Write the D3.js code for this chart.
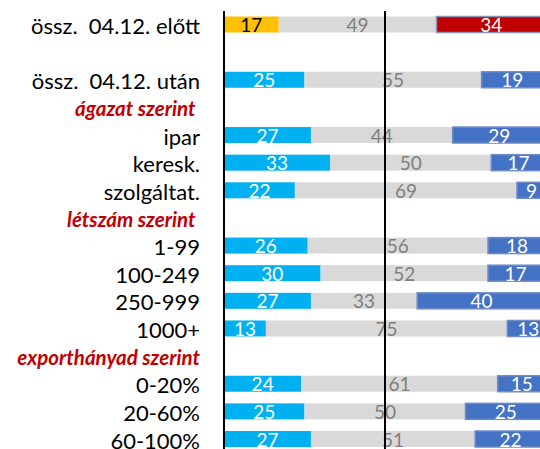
<!DOCTYPE html>
<html>
<head>
<meta charset="utf-8">
<script src="https://cdn.jsdelivr.net/npm/d3@7"></script>
<style>
  body { margin: 0; background: #fff; }
  text { font-family: Lato, "Noto Sans", sans-serif; white-space: pre; }
</style>
</head>
<body>
<script>
// sorok (üres sor is kell a két összesítő között)
var categories = ["össz.  04.12. előtt", "", "össz.  04.12. után", "ágazat szerint ", "ipar", "keresk.", "szolgáltat.",
  "létszám szerint ", "1-99", "100-249", "250-999", "1000+", "exporthányad szerint", "0-20%", "20-60%", "60-100%"]
var headers = ["ágazat szerint ", "létszám szerint ", "exporthányad szerint"]

// három szelet soronként (null = nincs sáv)
var first  = [17, null, 25, null, 27, 33, 22, null, 26, 30, 27, 13, null, 24, 25, 27]
var middle = [49, null, 55, null, 44, 50, 69, null, 56, 52, 33, 75, null, 61, 50, 51]
var last   = [34, null, 19, null, 29, 17,  9, null, 18, 17, 40, 13, null, 15, 25, 22]

var W = 540, H = 449
var svg = d3.select("body").append("svg")
    .attr("width", W)
    .attr("height", H)

var x = d3.scaleLinear().domain([0, 100]).range([224, 546])
var y = d3.scalePoint().domain(d3.range(categories.length)).range([24.5, 439])
var barH = 16

// egymásra rakott szeletek
var rows = []
categories.forEach(function(c, i) {
  if (first[i] == null) return
  var vals = [first[i], middle[i], last[i]]
  var acc = 0
  vals.forEach(function(v, k) {
    rows.push({ row: i, k: k, x0: acc, x1: acc + v, v: v })
    acc += v
  })
})

function fillOf(d) {
  if (d.k == 1) return "#d9d9d9"
  if (d.row == 0) return d.k == 0 ? "#ffc000" : "#c00000"
  return d.k == 0 ? "#00b0f0" : "#4472c4"
}

svg.append("g")
  .selectAll("rect")
  .data(rows)
  .enter()
  .append("rect")
    .attr("x", d => x(d.x0))
    .attr("y", d => y(d.row) - barH / 2)
    .attr("width", d => x(d.x1) - x(d.x0))
    .attr("height", barH)
    .attr("fill", fillOf)
    .attr("stroke", d => d.k == 2 ? (d.row == 0 ? "#8a94b4" : "#6f8cc6") : "none")
    .attr("stroke-width", d => d.k == 2 ? 1.5 : 0)

// értékfeliratok
svg.append("g")
  .selectAll("text")
  .data(rows)
  .enter()
  .append("text")
    .attr("x", d => x((d.x0 + d.x1) / 2))
    .attr("y", d => y(d.row))
    .attr("text-anchor", "middle")
    .attr("dominant-baseline", "central")
    .attr("font-size", 19)
    .attr("fill", d => d.k == 1 ? "#7f7f7f" : (d.row == 0 && d.k == 0 ? "#000" : "#fff"))
    .text(d => d.v)

// függőleges tengely és 50%-os vonal
svg.append("line")
  .attr("x1", x(0)).attr("x2", x(0))
  .attr("y1", 11).attr("y2", H)
  .attr("stroke", "#000").attr("stroke-width", 2)

svg.append("line")
  .attr("x1", x(50)).attr("x2", x(50))
  .attr("y1", 11).attr("y2", H)
  .attr("stroke", "#000").attr("stroke-width", 2)

// sorfeliratok
svg.append("g")
  .selectAll("text")
  .data(categories)
  .enter()
  .append("text")
    .attr("x", 200)
    .attr("y", (d, i) => y(i) + 1)
    .attr("text-anchor", "end")
    .attr("dominant-baseline", "central")
    .attr("font-size", d => headers.includes(d) ? 20.5 : 22)
    .attr("font-weight", d => headers.includes(d) ? "bold" : "normal")
    .attr("font-style", d => headers.includes(d) ? "italic" : "normal")
    .attr("fill", d => headers.includes(d) ? "#c00000" : "#000")
    .text(d => d)
</script>
</body>
</html>
